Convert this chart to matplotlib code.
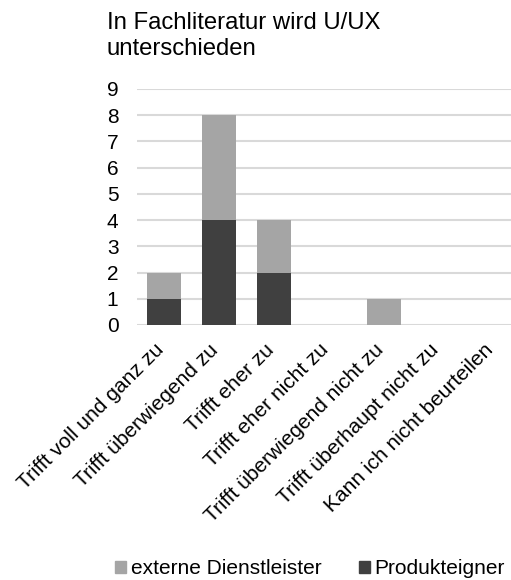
import matplotlib
matplotlib.use("Agg")
import matplotlib.pyplot as plt
import matplotlib.transforms as mtransforms
from matplotlib.patches import Patch

plt.rcParams['font.family'] = ['Liberation Sans', 'DejaVu Sans']

categories = [
    "Trifft voll und ganz zu",
    "Trifft überwiegend zu",
    "Trifft eher zu",
    "Trifft eher nicht zu",
    "Trifft überwiegend nicht zu",
    "Trifft überhaupt nicht zu",
    "Kann ich nicht beurteilen",
]
produkteigner = [1, 4, 2, 0, 0, 0, 0]
externe_dienstleister = [1, 4, 2, 0, 1, 0, 0]
yticks = list(range(0, 10))
title_lines = ["In Fachliteratur wird U/UX", "unterschieden"]

W, H = 511, 580
fig = plt.figure(figsize=(W / 100, H / 100), dpi=100)

# plot area in pixels (the category band runs slightly past the right edge)
left, right = 136.5, 521.5
top, bottom = 89, 325
ax = fig.add_axes([left / W, 1 - bottom / H, (right - left) / W, (bottom - top) / H])

dark = "#404040"
light = "#a5a5a5"
fs = 15
x = list(range(len(categories)))
ax.bar(x, produkteigner, width=0.62, color=dark, zorder=3)
ax.bar(x, externe_dienstleister, width=0.62, bottom=produkteigner, color=light, zorder=3)

ax.set_xlim(-0.5, 6.5)
ax.set_ylim(0, 9)
ax.set_yticks(yticks)
ax.set_yticklabels([str(v) for v in yticks], fontsize=fs, color="#000000")
ax.yaxis.grid(True, color="#d9d9d9", linewidth=1.5, zorder=0)
ax.set_axisbelow(True)
for s in ax.spines.values():
    s.set_visible(False)
ax.tick_params(axis="y", length=0, pad=13)
ax.tick_params(axis="x", length=0, pad=11)
ax.set_xticks(x)
ax.set_xticklabels(categories, rotation=45, ha="right", rotation_mode="anchor",
                   fontsize=fs, color="#000000")
# nudge the slanted category labels so their ends sit on the bar centres
shift = mtransforms.ScaledTranslation(-10 / 100, 0, fig.dpi_scale_trans)
for lbl in ax.get_xticklabels():
    lbl.set_transform(lbl.get_transform() + shift)

# two-line title, placed by baseline
title_fs = 17.2
for line, base in zip(title_lines, [29, 55]):
    fig.text(107 / W, 1 - base / H, line, ha="left", va="baseline",
             fontsize=title_fs, color="#000000")

handles = [Patch(color=light, label="externe Dienstleister"),
           Patch(color=dark, label="Produkteigner")]
fig.legend(handles=handles, loc="center left", bbox_to_anchor=(105 / W, 1 - 569 / H),
           ncol=2, frameon=False, fontsize=fs, borderpad=0,
           handlelength=0.53, handleheight=0.53,
           handletextpad=0.2, columnspacing=1.8)

fig.savefig("out.png", dpi=100)
